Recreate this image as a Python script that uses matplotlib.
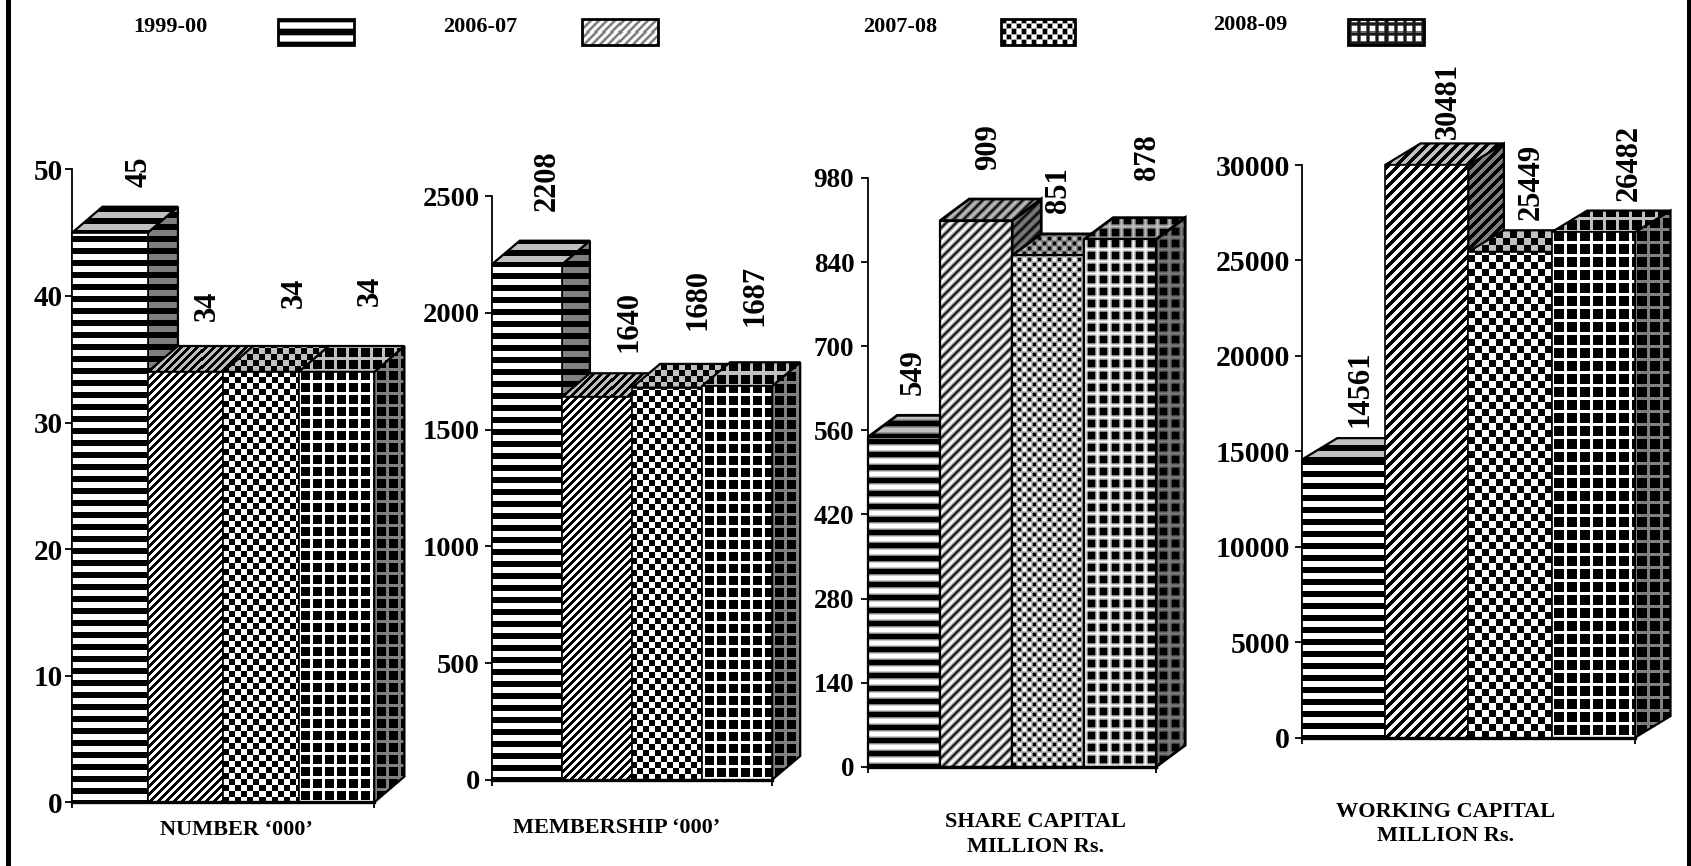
#!/usr/bin/env python3
"""Four pseudo 3-D bar panels with pattern fills."""
import numpy as np
import matplotlib
matplotlib.use("Agg")
import matplotlib.pyplot as plt
from matplotlib.patches import Polygon, Rectangle

plt.rcParams['font.family'] = ['Liberation Serif', 'DejaVu Serif']
plt.rcParams['font.weight'] = 'bold'

years = ['1999-00', '2006-07', '2007-08', '2008-09']
number = [45, 34, 34, 34]
membership = [2208, 1640, 1680, 1687]
share_capital = [549, 909, 851, 878]
working_capital = [14561, 30481, 25449, 26482]
titles = ['NUMBER \u2018000\u2019', 'MEMBERSHIP \u2018000\u2019',
          'SHARE CAPITAL\nMILLION Rs.', 'WORKING CAPITAL\nMILLION Rs.']
ticks = [np.arange(0, 51, 10), np.arange(0, 2501, 500),
         np.arange(0, 981, 140), np.arange(0, 30001, 5000)]

W, H = 1568, 803  # layout below is in these units
PX = 1691 / 1568
kinds = ['stripe', 'diag', 'check', 'grid']

# left, right, y of zero, y of top tick, depth x, depth y, blur, outline
panels = [
    (67, 347, 744, 157, 28, 24, 0, 1.2),
    (456, 716, 723, 182, 26, 22, 0, 1.2),
    (805, 1072, 711, 165, 27, 20, 3, 1.6),
    (1207, 1516, 684, 153, 33, 20, 0, 1.2),
]
# pattern sizes in pixels
periods = [
    dict(stripe=12, diag=8, check=6, grid=12),
    dict(stripe=12, diag=8, check=6, grid=12),
    dict(stripe=13, diag=10, check=5, grid=12),
    dict(stripe=12, diag=10, check=7, grid=13),
]
tick_sizes = [21, 20.5, 19.5, 21.5]
tick_pads = [2, 3.5, 5, 3.5]
# label offset from top centre of the front face
label_off = [
    [(27, 56), (20, 61), (31, 73), (31, 75)],
    [(19, 78), (30, 70), (29, 82), (17, 84)],
    [(8, 60), (12, 68), (10, 61), (25, 76)],
    [(15, 66), (20, 59), (20, 65), (33, 64)],
]
title_pos = [(219, 770), (572, 768), (960, 774), (1340, 764)]
legend_text_x = [124, 411, 800, 1125]
legend_box = [(258, 328), (540, 610), (928, 997), (1250, 1320)]
legend_sizes = dict(stripe=12, diag=8, check=5, grid=9)


def pattern(kind, w, h, sizes, blur=0):
    yy, xx = np.mgrid[0:max(h, 1), 0:max(w, 1)]  # yy counts up from the bottom
    if kind == 'stripe':
        p = sizes['stripe']
        img = ((yy + p // 2 - 3) % p >= p / 2).astype(float)
    elif kind == 'diag':
        p = sizes['diag']
        img = (((xx - yy) % p) >= p / 2).astype(float)
    elif kind == 'check':
        p = sizes['check']
        img = ((xx // p + yy // p) % 2).astype(float)
    else:
        p = sizes['grid']
        img = ((xx % p < 3) | (yy % p < 3)).astype(float)
    if blur:
        k = np.ones(blur) / blur
        tmp = np.pad(img, blur, mode='edge')
        tmp = np.apply_along_axis(lambda r: np.convolve(r, k, mode='same'), 0, tmp)
        tmp = np.apply_along_axis(lambda r: np.convolve(r, k, mode='same'), 1, tmp)
        img = tmp[blur:-blur, blur:-blur] ** 0.6  # soft scan, lighter greys
    return np.flipud(img)


def face(ax, pts, kind, shade, z, sizes, blur, lw):
    pts = np.array(pts)
    # image laid out one to one with the device pixels of the face
    corners = ax.transData.transform([pts.min(axis=0), pts.max(axis=0)])
    p0 = np.floor(corners[0])
    wh = np.ceil(corners[1] - p0).astype(int) + 1
    (x0, y0), (x1, y1) = ax.transData.inverted().transform([p0, p0 + wh])
    im = ax.imshow(pattern(kind, wh[0], wh[1], sizes, blur) * shade, cmap='gray',
                   vmin=0, vmax=1, extent=(x0, x1, y0, y1), aspect='auto', zorder=z,
                   interpolation='nearest')
    patch = Polygon(pts, closed=True, fc='none', ec='black', lw=lw, zorder=z + 0.5,
                    clip_on=False, joinstyle='miter')
    ax.add_patch(patch)
    im.set_clip_path(patch)
    im.set_clip_box(ax.figure.bbox)


def draw_panel(fig, values, yticks, layout, offs, sizes, tick_size, tick_pad):
    left, right, y0, ytop, dpx, dpy, blur, lw = layout
    ax = fig.add_axes([left / W, 1 - y0 / H, (right - left) / W, (y0 - ytop) / H])
    ymax = yticks[-1]
    n = len(values)
    ax.set_xlim(0, n)
    ax.set_ylim(0, ymax)
    dx = dpx / ((right - left) / n)
    dy = dpy * ymax / (y0 - ytop)
    capped = np.minimum(values, ymax)
    for i, v in enumerate(capped):
        z = 2 + i * 3
        kind = kinds[i]
        face(ax, [(i + 1, 0), (i + 1 + dx, dy), (i + 1 + dx, v + dy), (i + 1, v)],
             kind, 0.5, z, sizes, blur, lw + 0.4)
        face(ax, [(i, v), (i + 1, v), (i + 1 + dx, v + dy), (i + dx, v + dy)],
             kind, 0.75, z + 1, sizes, blur, lw + 0.4)
        face(ax, [(i, 0), (i + 1, 0), (i + 1, v), (i, v)], kind, 1.0, z + 2, sizes, blur, lw)
    ax.set_xlim(0, n)
    ax.set_ylim(0, ymax)
    for i, v in enumerate(values):
        ax.annotate(str(v), xy=(i + 0.5, capped[i]),
                    xytext=(offs[i][0] * PX, offs[i][1] * PX), textcoords='offset pixels',
                    rotation=90, ha='center', va='center', fontsize=22, fontweight='bold',
                    annotation_clip=False, zorder=40)
    ax.set_xticks([0, n])
    ax.set_xticklabels([])
    ax.set_yticks(yticks)
    ax.tick_params(axis='y', length=5, width=1.3, labelsize=tick_size, pad=tick_pad)
    ax.tick_params(axis='x', length=4, width=1.3)
    for s in ['top', 'right']:
        ax.spines[s].set_visible(False)
    ax.spines['left'].set_linewidth(1.3)
    ax.spines['bottom'].set_linewidth(2.4)
    ax.spines['bottom'].set_zorder(30)
    ax.patch.set_alpha(0)
    return ax


fig = plt.figure(figsize=(16.91, 8.66), dpi=100)

# page layer: border, legend and panel titles
page = fig.add_axes([0, 0, 1, 1], zorder=-1)
page.set_xlim(0, W)
page.set_ylim(H, 0)
page.axis('off')
page.add_patch(Rectangle((6, 0), 4.5, H, fc='black', ec='none'))
page.add_patch(Rectangle((1564, 0), 4, H, fc='black', ec='none'))

for year, kind, tx, (bx0, bx1) in zip(years, kinds, legend_text_x, legend_box):
    page.text(tx, 25 if tx != 1125 else 23, year, fontsize=16, fontweight='bold',
              ha='left', va='center')
    w = int((bx1 - bx0) * PX)
    h = int(24 * PX)
    img = pattern(kind, w, h, legend_sizes, 2)
    if kind == 'diag':
        img = 0.45 + 0.55 * img
    if kind == 'grid':
        img = 1 - img * 0.9  # white cells with dark lines
    page.imshow(img, cmap='gray', vmin=0, vmax=1, extent=(bx0, bx1, 42, 18),
                aspect='auto', interpolation='nearest')
    page.add_patch(Rectangle((bx0, 18), bx1 - bx0, 24, fc='none', ec='black', lw=2))
page.set_xlim(0, W)
page.set_ylim(H, 0)

for title, (tx, ty) in zip(titles, title_pos):
    page.text(tx, ty, title, fontsize=16, fontweight='bold', ha='center', va='center',
              linespacing=1.3)

series = [number, membership, share_capital, working_capital]
for vals, t, lay, off, sz, ts, tp in zip(series, ticks, panels, label_off, periods,
                                         tick_sizes, tick_pads):
    draw_panel(fig, vals, t, lay, off, sz, ts, tp)

fig.savefig('out.png', dpi=100)
